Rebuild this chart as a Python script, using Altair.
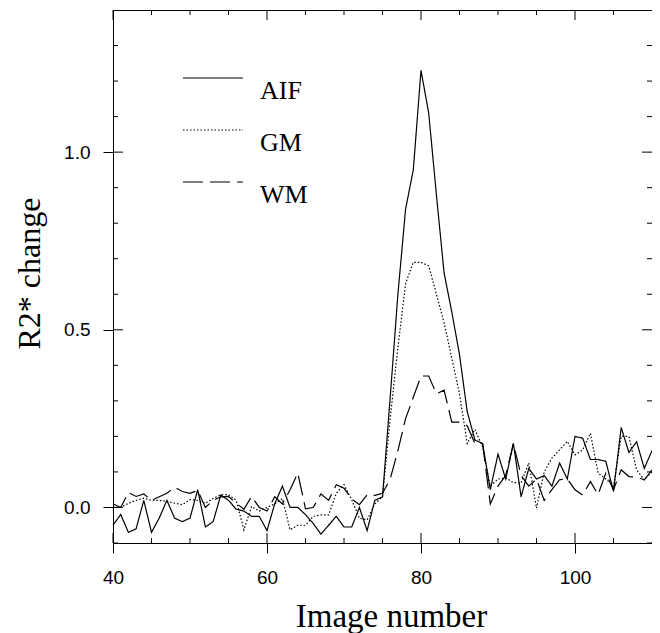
import altair as alt
import pandas as pd

image_number = list(range(40, 111))

aif = [-0.05, -0.02, -0.07, -0.06, 0.02, -0.07, -0.03, 0.02, -0.03, -0.04,
       -0.03, 0.05, -0.055, -0.04, 0.035, 0.02, -0.005, -0.01, -0.025, -0.025,
       -0.065, 0.01, 0.06, 0.0, 0.0, -0.02, -0.045, -0.075, -0.05, -0.025,
       -0.055, -0.055, 0.0, -0.065, 0.02, 0.03, 0.31, 0.60, 0.84, 0.95,
       1.23, 1.11, 0.88, 0.66, 0.55, 0.43, 0.27, 0.19, 0.18, 0.05,
       0.15, 0.08, 0.18, 0.03, 0.11, 0.08, 0.09, 0.06, 0.125, 0.08,
       0.20, 0.195, 0.135, 0.135, 0.13, 0.045, 0.225, 0.155, 0.185, 0.11,
       0.16]

gm = [0.0, 0.0, 0.012, 0.02, 0.026, 0.02, 0.02, 0.017, 0.012, 0.008,
      0.022, 0.02, 0.012, 0.025, 0.036, 0.036, 0.02, -0.063, 0.003, -0.01,
      0.0, 0.01, 0.025, -0.063, -0.05, -0.05, -0.025, -0.021, -0.021, 0.04,
      0.064, 0.022, -0.03, -0.035, 0.01, 0.03, 0.25, 0.45, 0.63, 0.69,
      0.69, 0.68, 0.60, 0.52, 0.42, 0.32, 0.18, 0.22, 0.17, 0.06,
      0.08, 0.083, 0.07, 0.069, 0.125, -0.002, 0.10, 0.139, 0.162, 0.186,
      0.148, 0.162, 0.209, 0.097, 0.08, 0.06, 0.20, 0.20, 0.106, 0.078,
      0.10]

wm = [0.01, 0.0, 0.042, 0.031, 0.038, 0.02, 0.03, 0.04, 0.057, 0.045,
      0.04, 0.048, 0.0, 0.02, 0.03, 0.031, 0.012, -0.005, 0.031, 0.0,
      -0.01, 0.03, 0.01, 0.05, 0.097, -0.004, 0.0, 0.038, 0.02, 0.064,
      0.054, 0.024, 0.008, 0.036, 0.034, 0.04, 0.08, 0.16, 0.25, 0.31,
      0.37, 0.37, 0.32, 0.33, 0.24, 0.24, 0.23, 0.18, 0.18, 0.01,
      0.06, 0.09, 0.18, 0.09, 0.06, 0.08, 0.02, 0.05, 0.078, 0.08,
      0.05, 0.035, 0.073, 0.036, 0.097, 0.05, 0.106, 0.087, 0.085, 0.078,
      0.106]

series_names = ["AIF", "GM", "WM"]
series_dash = [[1, 0], [1.5, 2], [20, 7]]

x_major_ticks = [40, 60, 80, 100]
x_minor_ticks = [45, 50, 55, 65, 70, 75, 85, 90, 95, 105]
y_major_ticks = [0.0, 0.5, 1.0]
y_minor_ticks = [-0.1, 0.1, 0.2, 0.3, 0.4, 0.6, 0.7, 0.8, 0.9, 1.1, 1.2, 1.3]

rows = []
for name, vals in zip(series_names, [aif, gm, wm]):
    for xi, v in zip(image_number, vals):
        rows.append({"image": xi, "r2": v, "series": name})
df = pd.DataFrame(rows)

W, H = 539, 533
serif = "Liberation Serif"
sans = "Liberation Sans"

x_scale = alt.Scale(domain=[40, 110], nice=False, zero=False)
y_scale = alt.Scale(domain=[-0.1, 1.4], nice=False, zero=False)

x_axis = alt.Axis(
    values=x_major_ticks,
    orient="bottom",
    domain=False,
    grid=False,
    tickSize=10,
    tickWidth=1,
    tickColor="black",
    labelFont=sans,
    labelFontSize=19,
    labelColor="black",
    labelPadding=15,
    labelFlush=False,
    labelOverlap=False,
    title="Image number",
    titleFont=serif,
    titleFontSize=33,
    titleFontWeight="normal",
    titleColor="black",
    titleX=278,
    titleY=83,
    titleAlign="center",
    titleBaseline="alphabetic",
)

y_axis = alt.Axis(
    values=y_major_ticks,
    orient="left",
    domain=False,
    grid=False,
    tickSize=10,
    tickWidth=1,
    tickColor="black",
    format=".1f",
    labelFont=sans,
    labelFontSize=19,
    labelColor="black",
    labelPadding=13,
    labelOverlap=False,
    title="R2* change",
    titleFont=serif,
    titleFontSize=32,
    titleFontWeight="normal",
    titleColor="black",
    titleX=-74,
    titleY=263,
    titleAlign="center",
    titleBaseline="alphabetic",
)

lines = (
    alt.Chart(df)
    .mark_line(strokeWidth=1.2, color="black")
    .encode(
        x=alt.X("image:Q", scale=x_scale, axis=x_axis),
        y=alt.Y("r2:Q", scale=y_scale, axis=y_axis),
        strokeDash=alt.StrokeDash(
            "series:N",
            scale=alt.Scale(domain=series_names, range=series_dash),
            legend=alt.Legend(
                title=None,
                orient="none",
                legendX=69,
                legendY=42,
                padding=0,
                symbolType="stroke",
                symbolSize=3600,
                symbolStrokeWidth=1.2,
                symbolStrokeColor="black",
                clipHeight=52,
                rowPadding=0,
                labelFont=serif,
                labelFontSize=26,
                labelColor="black",
                labelBaseline="top",
                labelOffset=16,
            ),
        ),
        detail="series:N",
    )
)


def vticks(vals, y0, y1):
    return (
        alt.Chart(pd.DataFrame({"image": vals}))
        .mark_rule(color="black", strokeWidth=1)
        .encode(x=alt.X("image:Q", scale=x_scale), y=alt.value(y0), y2=alt.value(y1))
    )


def hticks(vals, x0, x1):
    return (
        alt.Chart(pd.DataFrame({"r2": vals}))
        .mark_rule(color="black", strokeWidth=1)
        .encode(y=alt.Y("r2:Q", scale=y_scale), x=alt.value(x0), x2=alt.value(x1))
    )


tick_layers = [
    vticks(x_minor_ticks, 0, 5),
    vticks(x_minor_ticks, H - 5, H),
    vticks(x_major_ticks, 0, 10),
    vticks(x_major_ticks, H - 10, H),
    hticks(y_minor_ticks, 0, 5),
    hticks(y_minor_ticks, W - 5, W),
    hticks(y_major_ticks, 0, 10),
    hticks(y_major_ticks, W - 10, W),
]

chart = (
    alt.layer(lines, *tick_layers)
    .properties(
        width=W,
        height=H,
        autosize=alt.AutoSizeParams(type="none"),
        padding={"left": 105, "top": 2, "right": 0, "bottom": 90},
        background="white",
    )
    .configure_view(stroke="black", strokeWidth=1)
)

chart.save("out.html", embed_options={"renderer": "svg", "actions": False})
